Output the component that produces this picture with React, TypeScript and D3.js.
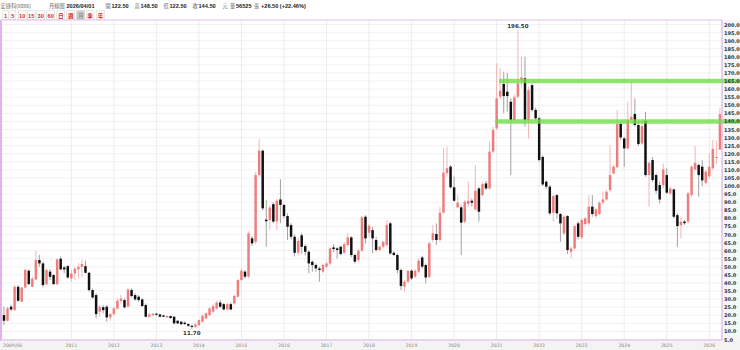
import React from 'react';
import * as d3 from 'd3';

// Monthly OHLC, 2009/06 .. 2026/04
const opens = [20.1,16.6,25.3,23.2,37.6,28.4,37.2,47.6,37.6,42.2,54.2,52.1,39.3,47,44.9,39.3,55,49.6,50.4,42.8,45.9,48.4,50,50.4,46.3,35.6,32.5,22.2,25,25.3,18.7,20.7,24.2,28.8,29.4,25.3,35.6,32.5,31.5,29.8,26.3,19.1,20.1,21,20.5,19.9,18.7,19.5,19.1,16.6,16,15.4,14.6,13.5,12.8,13.9,16,18,20.1,22.2,24.2,27.9,26.9,23.6,26.9,27.3,31.5,41.8,47,43.9,67.6,65.5,106.8,121.9,79.2,79,88.8,78,91.7,88.3,81.4,75.8,68.6,58.7,69.5,62.8,59.3,53.1,51.1,49,47,50.1,52.1,62,61.4,62.4,58.7,63.5,68.2,57.3,54.2,60,81,71.1,72.7,66.6,60.4,62.4,63.5,76.9,58.7,57.3,48,37.7,40.8,47.6,43.9,47,55.8,51.1,43.8,66.6,70.3,66.6,83.5,108,112,99.2,86.8,86.8,77.9,88.9,90.9,85.5,98.5,94.4,101.6,98.5,121.3,135.7,155.3,163.2,158.4,152.2,140.9,155.3,165.6,166.7,140.9,162.5,147.1,141.9,118,102.7,99.6,83.5,94.4,82.7,70.7,81.4,59.3,61.4,76.9,68.2,76.5,76.9,87.2,81.4,82.7,89.7,91.7,97.5,107.8,111.6,138.4,129.5,123.3,140.9,144.6,137.8,126.4,140.4,106.8,116.1,106.8,100.6,100.6,106.8,95.4,97.9,82,75.8,78,77.9,94.4,110.3,113,112,102,106,111,117.5,122.5];
const highs = [25.3,25.3,26.5,38.7,38.7,37.6,49,48.4,43.9,60,57.3,53.1,49,48.4,45.5,55.2,56.3,50.5,51,48,50,52.5,54.2,53.8,46.9,36.6,33.5,26.3,26.3,26.3,21.5,25.3,30.4,32.5,30.4,36.6,36.6,33.5,32.5,30.4,27.3,21.5,21.5,21.5,21,20.3,20,19.9,19.5,17,16.6,16.2,15.2,14,15,17.5,20.5,22,25,27,29,29.5,27.5,27.5,28,33,42.5,49,48,72,69,108.8,128.9,122.5,91.3,88,90,92,104.2,89,83.1,77,70,68,71,64,60,54,52,50,52,53,62,64,62,63,65,70.7,69,58,61,81.5,82,76.5,74.8,68.6,63,66,78.9,77.9,59.5,58.3,49,41.8,48,48.5,48.5,55.2,56.7,52.1,65.5,75.8,76.9,87.2,123.3,124.4,113,105.8,94.4,88.2,91.3,102.7,92.4,113,99.5,102.7,103.3,127.4,136.7,176,172.9,170.8,170,154.3,156.5,196.5,180,180.1,161.5,163.5,148.5,143,119,103.5,100.6,94.4,95,83.1,82,82,62.5,76,78,80,81,94.4,94.4,86.5,90.5,96.5,97.5,125.4,113,147.1,139.8,130.5,152.2,164,154.3,139.8,139.8,146,115,118,107.8,102.7,114,110.9,99.5,98.5,83,81,79,96.5,113,124.8,114,116,110,120,128.5,128,148.5];
const lows = [13.9,16,22.5,22.8,28.4,28.4,36.6,38.7,37.6,41.8,50,37.2,38.7,41.8,38.7,38.7,48,46,42.8,40.8,41.8,42.8,43.9,46,34.6,30.4,18.1,19.1,21.2,16,16.6,19.5,23.2,27.3,24.2,24.9,31,29,28.4,25.3,18.7,18.5,19.5,19.9,18.7,18.7,18.3,17.8,14.5,14.5,14,13.8,12.8,11.7,12.3,13.5,15.5,17.5,19.5,21.5,23.5,24.5,23,23,23,26.5,31,41,42.5,43,63,64,105.8,85,62.4,73,77,72.7,77,80,66.6,67,56.5,57,58,57,46,47,47,40.8,46,49,51,59,55.2,57,58,62,56,52,53,59,64.5,68.6,58.3,59.3,59.5,61.5,62.4,57.3,56.5,45.9,35.6,34.6,39.7,41.8,43,45.9,49,39.7,42.8,65.5,63.5,65.5,83,105.8,98.5,90.3,86.2,57.3,76.9,87.2,87.2,84.7,77.9,93.4,97.5,97.9,120.2,134.7,153.3,145,146,106.8,139,154.3,161.5,136.7,129.5,146,140.5,115,100,98,82,77.9,80,65.5,69.6,58,55.2,60.5,67,67,75,75.8,81,80,82,89,91,96.5,107,111,128.5,111.9,122.7,140.5,136.7,124.8,125.4,105.8,87.2,102.7,95.4,89.3,98.5,95,94.5,80,62.4,67.6,76,76.9,93.4,109.5,93.4,100,101,104.5,110,113.5,122.5];
const closes = [16.6,24.2,23.6,37.6,29,37.2,48,39.3,42.6,54.2,52.1,38.7,48,43.8,39.3,54.6,48.4,48.4,43.4,45.9,48.8,50,51.7,46.3,35.6,31,20.7,25.3,23.2,18.7,20.7,24.2,29,30.4,24.9,36,31.9,29.8,29.4,25.7,19.1,20.5,21,20.3,19.1,19.1,19.5,18.3,15,15,14.5,14.6,13.5,12.8,14.3,17,19.5,21.2,24.2,25.7,27.9,25.3,23.6,26.9,23.6,31.9,41.8,47.6,43.9,70.7,64.5,106.8,121.9,86.2,78.2,86.7,78,90.9,88.3,81.4,74.8,68.6,58.7,66,62.4,59.3,52.1,51.1,49,48,51.1,52.1,61.4,61,60.4,57.9,64.1,68.2,57.3,53.2,60,80.6,67.6,75.4,67.6,60.4,62.4,65.5,75.8,58.3,57.3,48,38.1,40.8,47.6,42.8,47.6,53.8,50.1,43.4,64.5,70.7,66.6,83.5,108.3,111,99.2,90.9,89.7,77.3,90.3,90.9,89.7,97.1,84.1,101.2,98.5,121.3,134.7,154.3,159,155.7,155.7,140.9,154.9,163.6,167.3,140.9,159.4,147.1,141.9,116.1,101,99.6,83.1,93.8,83.1,76.9,81,60.4,61.4,75.2,68.6,79,80,87.2,82.7,85.5,89.7,91.7,96.5,106.8,112,138.4,130.1,123.3,140.9,142.9,137.8,126,137.1,106.8,114.4,103.7,97.1,91.7,110.3,95.9,98.5,81,75.2,77.9,77,95.4,112,114.4,106.8,103.5,108.9,112,123,118,144.5];

const months = d3.timeMonth.range(new Date(2009, 5, 1), new Date(2026, 4, 1)).map(d3.timeFormat('%Y/%m'));
const xTickMonths = ['2009/06','2011/01','2012/01','2013/01','2014/01','2015/01','2016/01','2017/01','2018/01','2019/01','2020/01','2021/01','2022/01','2023/01','2024/01','2025/01','2026/01'];
const xTickLabels = ['2009/06','2011','2012','2013','2014','2015','2016','2017','2018','2019','2020','2021','2022','2023','2024','2025','2026'];
const yTicks = d3.range(5, 200.1, 5);
const levelLines = [165, 140];
const levelStart = ['2021/02', '2021/01'];
const periodButtons = ['1','5','10','15','30','60','日','週','月','季','年'];
const buttonX = [2.7, 10, 18.3, 27.3, 36.7, 46.7, 56.7, 66.7, 76.7, 86.3, 96.5];
const buttonW = [5.8, 5.8, 7.8, 7.8, 8, 8, 8, 8, 8, 7.6, 8];
const headerItems = [
  { t: '宏捷科(8086)', bold: false },
  { t: '月線圖', bold: false },
  { t: '2026/04/01', bold: true },
  { t: '開', bold: false }, { t: '122.50', bold: true },
  { t: '高', bold: false }, { t: '148.50', bold: true },
  { t: '低', bold: false }, { t: '122.50', bold: true },
  { t: '收', bold: false }, { t: '144.50', bold: true }, { t: '元', bold: false },
  { t: '量', bold: false }, { t: '56525', bold: true }, { t: '張', bold: false },
  { t: '+26.50 (+22.46%)', bold: true },
];
const headerX = [0.5, 49, 66.5, 105.5, 111.5, 134.5, 140.5, 163.5, 169.5, 192.5, 198.5, 222.5, 230, 236, 254, 261];

const W = 740, H = 350;
const plot = { left: 2, right: 722, top: 20, bottom: 340 };

export default function App() {
  const x = d3.scaleBand<string>().domain(months).range([2.2, 721.7]).paddingInner(0.3).paddingOuter(0.15);
  const y = d3.scaleLinear().domain([5, 200]).range([339.5, 24.5]);
  const bw = x.bandwidth();
  const cx = (m: string) => (x(m) as number) + bw / 2;
  const hiIdx = d3.maxIndex(highs);
  const loIdx = d3.minIndex(lows);
  const font = '"DejaVu Sans", sans-serif';
  const lat = '"Liberation Sans", "Noto Sans CJK TC", sans-serif';
  const cjk = '"Noto Sans CJK TC", "Liberation Sans", sans-serif';
  return (
    <div style={{ position: 'fixed', left: 0, top: 0, width: W, height: H, background: '#fff' }}>
      <svg width={W} height={H} style={{ display: 'block' }}>
        <rect x={0} y={0} width={W} height={H} fill="#fff" />
        {/* header row */}
        {headerItems.map((h, i) => (
          <text key={i} x={headerX[i]} y={8} fontSize={h.bold ? 5.6 : 5.2} fontFamily={h.bold ? lat : cjk} fontWeight={h.bold ? 700 : 400} fill={h.bold ? '#222' : '#666'}>{h.t}</text>
        ))}
        {/* period buttons */}
        {periodButtons.map((b, i) => {
          const sel = b === '月';
          return (
            <g key={b}>
              <rect x={buttonX[i]} y={10.8} width={buttonW[i]} height={9} fill={sel ? '#c9c9c9' : '#fff'} stroke="#d4d4d4" strokeWidth={0.6} />
              <text x={buttonX[i] + buttonW[i] / 2} y={17.6} textAnchor="middle" fontSize={5.6} fontWeight={700} fontFamily={b.length > 1 || /\d/.test(b) ? lat : cjk} fill={sel ? '#999' : '#d42a2a'}>{b}</text>
            </g>
          );
        })}
        {/* axis backgrounds */}
        <rect x={plot.right} y={plot.top} width={W - plot.right} height={H - plot.top} fill="#f6f6f6" />
        <rect x={0} y={plot.bottom} width={W} height={H - plot.bottom} fill="#f3f3f3" />
        {/* grid */}
        {yTicks.map(t => (
          <line key={t} x1={plot.left} x2={plot.right} y1={y(t)} y2={y(t)} stroke="#efefef" strokeWidth={0.8} />
        ))}
        {xTickMonths.slice(1).map(m => (
          <line key={m} x1={cx(m)} x2={cx(m)} y1={plot.top} y2={plot.bottom} stroke="#e8e8e8" strokeWidth={0.8} />
        ))}
        {/* candles */}
        {months.map((m, i) => {
          const up = closes[i] >= opens[i];
          const top = y(Math.max(opens[i], closes[i]));
          const bot = y(Math.min(opens[i], closes[i]));
          return (
            <g key={m}>
              <line x1={cx(m)} x2={cx(m)} y1={y(highs[i])} y2={y(lows[i])} stroke={up ? '#f3a3a3' : '#8a8a8a'} strokeWidth={0.8} />
              <rect x={x(m)} y={top} width={bw} height={Math.max(1, bot - top)} fill={up ? '#ee7d7d' : '#111'} />
            </g>
          );
        })}
        {/* level lines */}
        {levelLines.map((v, i) => (
          <line key={v} x1={x(levelStart[i]) as number} x2={W} y1={y(v)} y2={y(v)} stroke="rgba(112,222,72,0.8)" strokeWidth={4.5} />
        ))}
        {/* hi / lo labels */}
        <text x={cx(months[hiIdx])} y={y(highs[hiIdx]) - 2} textAnchor="middle" fontSize={5.5} fontWeight={700} fontFamily={font} fill="#333">{highs[hiIdx].toFixed(2)}</text>
        <text x={cx(months[loIdx])} y={y(lows[loIdx]) + 6} textAnchor="middle" fontSize={5.5} fontWeight={700} fontFamily={font} fill="#333">{lows[loIdx].toFixed(2)}</text>
        {/* frame */}
        <line x1={1} x2={1} y1={plot.top} y2={plot.bottom} stroke="#e3b2ee" strokeWidth={2} />
        <line x1={plot.right} x2={plot.right} y1={plot.top} y2={plot.bottom} stroke="#d9a2ea" strokeWidth={1} />
        <line x1={0} x2={plot.right} y1={plot.top} y2={plot.top} stroke="#e6bff0" strokeWidth={1} />
        <line x1={0} x2={plot.right} y1={plot.bottom} y2={plot.bottom} stroke="#e3b2ee" strokeWidth={1} />
        {/* right axis labels */}
        {yTicks.map(t => (
          <text key={t} x={724} y={y(t) + 2} fontSize={5} fontWeight={700} fontFamily={font} fill="#333">{t.toFixed(1)}</text>
        ))}
        {/* bottom axis labels */}
        {xTickMonths.map((m, i) => (
          <text key={m} x={i === 0 ? 3 : cx(m)} y={347} textAnchor={i === 0 ? 'start' : 'middle'} fontSize={4.6} fontFamily={font} fill="#888">{xTickLabels[i]}</text>
        ))}
      </svg>
    </div>
  );
}
